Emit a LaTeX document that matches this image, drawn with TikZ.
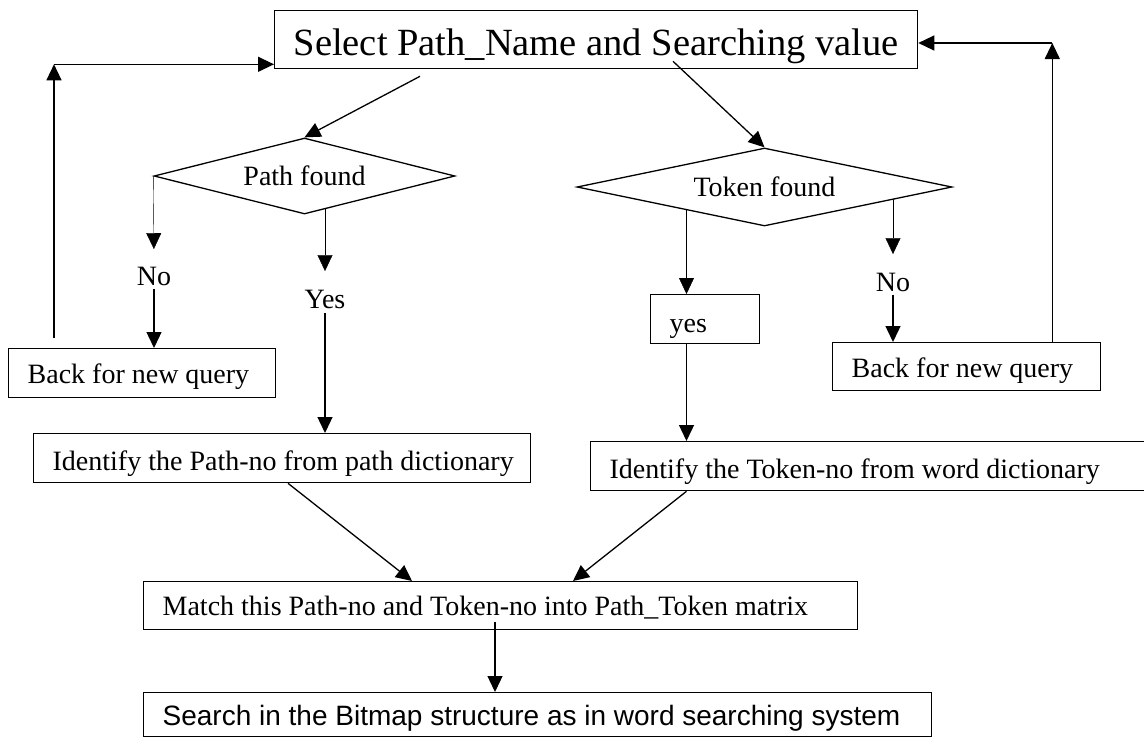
\documentclass[tikz,border=0pt]{standalone}
\usepackage{fontspec}
\setmainfont{Liberation Serif}
\setsansfont{Liberation Sans}
\usetikzlibrary{arrows.meta,shapes.geometric,calc,backgrounds}

% text set flush left in a line of fixed width
\newcommand\inline[2]{\makebox[#1][l]{#2}}

\begin{document}
\begin{tikzpicture}[x=1pt,y=-1pt,
  line width=1.3pt,
  txt/.style={font=\fontsize{28}{32}\selectfont},
  lbl/.style={txt, inner sep=0pt},
  box/.style={txt, draw, fill=white, anchor=north west, inner xsep=19pt,
    inner ysep=0pt, text height=22pt, text depth=0pt},
  dec/.style={txt, draw, fill=white, diamond, shape aspect=4, inner sep=0pt},
  arr/.style={-{Triangle[length=16pt,width=15pt]}},
]
\useasboundingbox (0,0) rectangle (1144,740);

% boxes and decisions
\node[box, font=\fontsize{38.5}{42}\selectfont, minimum height=58pt,
  text height=32pt] (top) at (274,10)
  {\inline{605pt}{Select Path\_Name and Searching value}};
\node[dec, minimum width=301pt, minimum height=76pt] (pd) at (304.5,176) {Path found};
\node[dec, minimum width=375pt, minimum height=78pt] (td) at (764.5,187) {Token found};

\node[box, minimum height=49pt, text height=21pt] (lback) at (8,348)
  {\inline{229pt}{Back for new query}};
\node[box, minimum height=48pt] (rback) at (832,342)
  {\inline{230pt}{Back for new query}};
\node[box, minimum height=49pt, text height=26pt] (ybox) at (650,294)
  {\inline{71pt}{yes}};

\node[box, minimum height=49pt, text height=25pt] (ipath) at (33,433)
  {\inline{459pt}{Identify the Path-no from path dictionary}};
\node[box, minimum height=49pt, text height=25pt] (tpath) at (590,441)
  {\inline{522pt}{Identify the Token-no from word dictionary}};
\node[box, minimum height=48pt, text height=20pt] (match) at (143,581)
  {\inline{676pt}{Match this Path-no and Token-no into Path\_Token matrix}};
\node[box, font=\sffamily\fontsize{28}{32}\selectfont, minimum height=44pt]
  (search) at (143,692)
  {\inline{750pt}{Search in the Bitmap structure as in word searching system}};

% branch labels
\node[lbl] (noL) at (154,276) {No};
\node[lbl] (yesL) at (325,299) {Yes};
\node[lbl] (noR) at (893,282) {No};

% helper points
\coordinate (ty) at ($(ybox.north west)+(36.5,0)$);
\coordinate (lx) at ($(lback.north west)+(46,0)$);
\coordinate (lc) at ($(lx |- top.south)+(0,-5)$);
\coordinate (rx) at ($(rback.north east)+(-49,0)$);
\coordinate (rc) at ($(rx |- top.north)+(0,33)$);

% branches leaving the decisions (their insides are covered by the fill)
\begin{scope}[on background layer]
  \draw[arr, shorten >=17pt] (pd.west) -- (noL.north);
  \draw[arr, shorten >=18pt] (yesL.north |- pd.center) -- (yesL.north);
  \draw[arr] (ty |- td.center) -- (ty);
  \draw[arr, shorten >=18pt] (noR.north |- td.center) -- (noR.north);
\end{scope}

\draw[arr, shorten <=3pt] (noL.south) -- (noL.south |- lback.north);
\draw[arr, shorten <=4pt] (yesL.south) -- (yesL.south |- ipath.north);
\draw[arr] (ty |- ybox.south) -- (ty |- tpath.north);
\draw[arr, shorten <=3pt] (noR.south) -- (noR.south |- rback.north);

% from the query box to the two tests
\draw[arr] ($(top.south west)+(146,7)$) -- (pd.north);
\draw[arr] ($(top.south west)+(399,-8)$) -- (td.north);

% loops back to a new query
\draw[arr, shorten <=10pt] (lx) -- (lc);
\draw[arr] (lc) -- (lc -| top.west);
\draw[arr] (rx) -- (rc);
\draw[arr] (rc) -- (rc -| top.east);

% merging into the matrix lookup
\draw[arr] ($(ipath.south west)+(255,0)$) -- ($(match.north west)+(269,0)$);
\draw[arr] (ty |- tpath.south) -- ($(match.north west)+(430,0)$);
\draw[arr] ($(match.south west)+(352,-8)$) -- ($(search.north west)+(352,0)$);
\end{tikzpicture}
\end{document}
